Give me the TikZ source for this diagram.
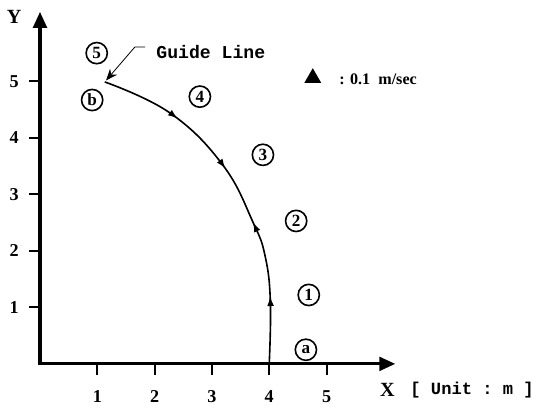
\documentclass[tikz,border=0pt]{standalone}
\usepackage{fontspec}
\setmainfont{Liberation Serif}
\setmonofont{Liberation Mono}
\usetikzlibrary{arrows.meta,decorations.markings,shapes.geometric}
\tikzset{marktip/.tip={Latex[length=1.7mm,width=1.2mm]}}

\begin{document}
\begin{tikzpicture}[x=1cm, y=0.986cm,
    axis/.style={line width=1.5pt, line join=miter},
    tickmark/.style={line width=1pt},
    ticklabel/.style={font=\bfseries\small},
    circled/.style={draw, circle, thick, inner sep=0pt, minimum size=3.7mm,
        font=\bfseries\fontsize{8.5}{9}\selectfont}]
    \useasboundingbox (-0.698,-0.832) rectangle (8.83,6.44);

    % axes
    \coordinate (O) at (0,0);
    \coordinate (ytip) at (0,6.23);
    \coordinate (xtip) at (6.2,0);
    \draw[axis, {Triangle[length=2.8mm,width=2.4mm]}-{Triangle[length=2.8mm,width=2.4mm]}]
        (ytip) -- (O) -- (xtip);
    \foreach \i in {1,...,5} {
        \draw[tickmark] (\i,0) -- (\i,-0.2);
        \node[ticklabel] (xl\i) at (\i,-0.58) {\i};
        \draw[tickmark] (0,\i) -- (-0.2,\i);
        \node[ticklabel] (yl\i) at (-0.45,\i) {\i};
    }
    \node[font=\bfseries] (ylab) at (-0.45,6.14) {Y};
    \node[font=\bfseries] (xlab) at (6.06,-0.46) {X};
    \node[font=\ttfamily\bfseries\fontsize{8.5}{10}\selectfont] (unit) at (7.54,-0.46) {[ Unit : m ]};

    % guide line
    \coordinate (a) at (4,0);
    \coordinate (b) at (1.13,4.99);
    \draw[thick, postaction=decorate, decoration={markings,
        mark=at position 0.19 with {\arrow{marktip}},
        mark=at position 0.405 with {\arrow{marktip}},
        mark=at position 0.575 with {\arrowreversed{marktip}},
        mark=at position 0.77 with {\arrowreversed{marktip}}}]
        plot[smooth, tension=0.7] coordinates {(a) (4.02,1.1) (3.93,1.9) (3.72,2.5) (3.19,3.52) (2.27,4.44) (b)};

    \node[circled] (n5) at (0.99,5.50) {5};
    \node[circled] (pb) at (0.91,4.67) {b};
    \node[circled] (n4) at (2.79,4.73) {4};
    \node[circled] (n3) at (3.89,3.70) {3};
    \node[circled] (n2) at (4.47,2.53) {2};
    \node[circled] (n1) at (4.69,1.22) {1};
    \node[circled] (pa) at (4.64,0.25) {a};

    \node[font=\ttfamily\bfseries\fontsize{9}{10}\selectfont] (guide) at (2.98,5.52) {Guide Line};
    \draw[-{Stealth[length=2mm,width=1.6mm]}, shorten >=1pt]
        ([shift={(-2pt,2.5pt)}]guide.west) -- ++(-0.18,0) -- (b);

    % legend
    \node[regular polygon, regular polygon sides=3, fill, inner sep=0pt, minimum size=3.4mm] (legmark) at (4.76,5.06) {};
    \node[font=\bfseries\fontsize{8}{9}\selectfont] (legtext) at (5.90,5.04) {: 0.1 \ m/sec};
\end{tikzpicture}
\end{document}
